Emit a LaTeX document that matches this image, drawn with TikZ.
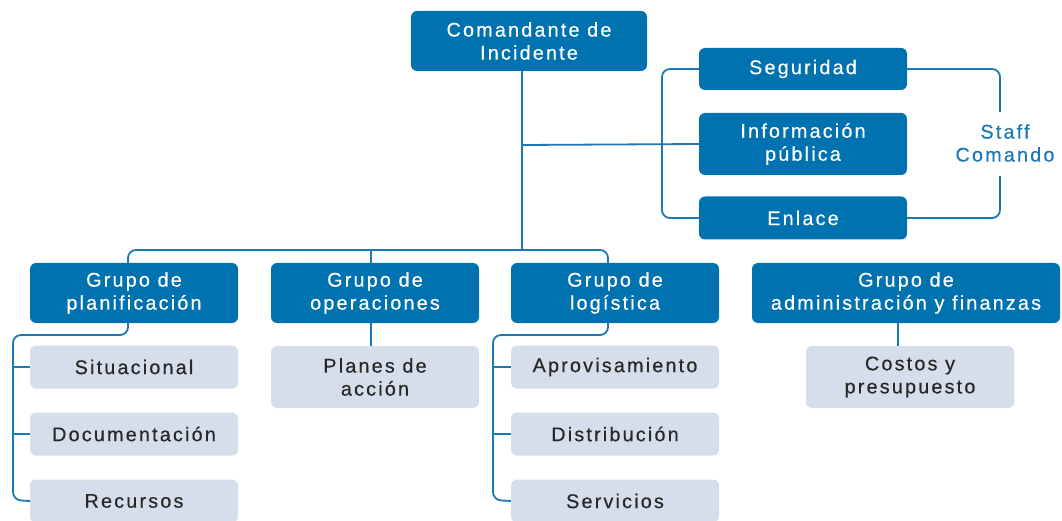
\documentclass[tikz,border=0pt]{standalone}
\usepackage{fontspec}
\setmainfont{Liberation Sans}[LetterSpace=11,FakeBold=0.4]
\definecolor{dblue}{RGB}{0,114,176}
\definecolor{lbox}{RGB}{214,221,235}
\definecolor{ltxt}{RGB}{40,40,40}
\definecolor{lnk}{RGB}{30,120,180}
\begin{document}
\begin{tikzpicture}[x=1pt,y=-1pt,
  dbox/.style={fill=dblue,rounded corners=6pt,text=white,align=center,inner sep=0pt,
     font=\fontsize{19.8}{23}\selectfont},
  lbx/.style={fill=lbox,rounded corners=6pt,text=ltxt,align=center,inner sep=0pt,
     font=\fontsize{19.8}{23}\selectfont},
  conn/.style={draw=lnk,line width=1.8pt,rounded corners=8pt}]
\useasboundingbox (0,0) rectangle (1062,521);
% top
\node[dbox,minimum width=236pt,minimum height=60pt] (cmd) at (529,41) {Comandante de\\Incidente};
% staff
\node[dbox,minimum width=208pt,minimum height=42pt] (seg) at (803,69) {Seguridad};
\node[dbox,minimum width=208pt,minimum height=62pt] (inf) at (803,144) {Información\\pública};
\node[dbox,minimum width=208pt,minimum height=43pt] (enl) at (803,218) {Enlace};
\node[text=lnk,align=center,inner sep=0pt,font=\fontsize{19.8}{23}\selectfont] (staff) at (1005,143) {Staff\\Comando};
% groups
\node[dbox,minimum width=208pt,minimum height=60pt] (plan) at (134,293) {Grupo de\\planificación};
\node[dbox,minimum width=208pt,minimum height=60pt] (oper) at (375,293) {Grupo de\\operaciones};
\node[dbox,minimum width=208pt,minimum height=60pt] (logi) at (615,293) {Grupo de\\logística};
\node[dbox,minimum width=308pt,minimum height=60pt] (adm) at (906,293) {Grupo de\\administración y finanzas};
% subs
\node[lbx,minimum width=208pt,minimum height=43pt] (p1) at (134,367) {Situacional};
\node[lbx,minimum width=208pt,minimum height=43pt] (p2) at (134,434) {Documentación};
\node[lbx,minimum width=208pt,minimum height=43pt] (p3) at (134,501) {Recursos};
\node[lbx,minimum width=208pt,minimum height=62pt] (o1) at (375,377) {Planes de\\acción};
\node[lbx,minimum width=208pt,minimum height=43pt] (l1) at (615,367) {Aprovisamiento};
\node[lbx,minimum width=208pt,minimum height=43pt] (l2) at (615,434) {Distribución};
\node[lbx,minimum width=208pt,minimum height=43pt] (l3) at (615,501) {Servicios};
\node[lbx,minimum width=208pt,minimum height=62pt] (a1) at (910,377) {Costos y\\presupuesto};
% coordinates
\coordinate (top) at (522,71);
\coordinate (jn) at (522,145);
\coordinate (bus) at (522,250);
\coordinate (lb) at (662,145);
\coordinate (rb1) at (1000,112);
\coordinate (rb2) at (1000,176);
% connectors
\draw[conn] (top) -- (bus);
\draw[conn] (jn) -- (inf.west);
\draw[conn] (seg.west) -| (lb) |- (enl.west);
\draw[conn] (seg.east) -| (rb1);
\draw[conn] (enl.east) -| (rb2);
\draw[conn] (128,263) |- (bus) -| (608,263);
\draw[conn] (371,250) -- (371,263);
% planning bracket
\draw[conn] (128,323) -- (128,335) -- (13,335) -- (13,500) -- (p3.west);
\draw[conn] (13,367) -- (p1.west);
\draw[conn] (13,434) -- (p2.west);
% logistics bracket
\draw[conn] (608,323) -- (608,335) -- (493,335) -- (493,500) -- (l3.west);
\draw[conn] (493,367) -- (l1.west);
\draw[conn] (493,434) -- (l2.west);
% single
\draw[conn] (371,323) -- (o1.north -| 371,0);
\draw[conn] (898,323) -- (898,346);
\end{tikzpicture}
\end{document}
